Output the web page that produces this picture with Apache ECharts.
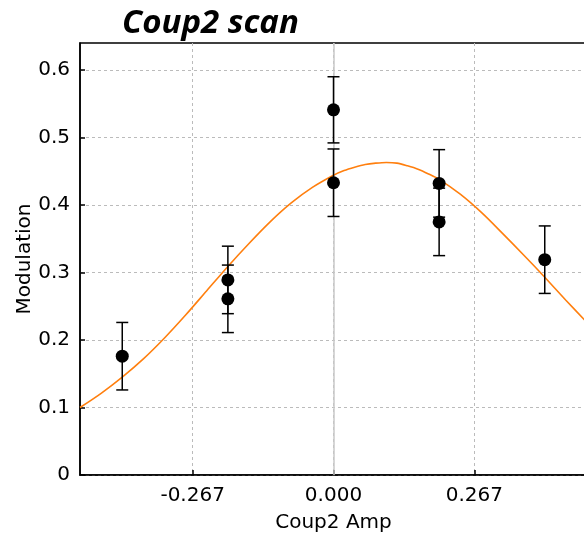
<!DOCTYPE html>
<html><head><meta charset="utf-8">
<script src="https://cdn.jsdelivr.net/npm/echarts@6/dist/echarts.min.js"></script>
<style>html,body{margin:0;padding:0;background:#fff}#c{width:584px;height:533px}</style>
</head><body><div id="c"></div>
<script>
// ---- data ----
const xTickValues = [-0.2667, 0, 0.2667];
const yTickValues = [0, 0.1, 0.2, 0.3, 0.4, 0.5, 0.6];
const pointX   = [-0.4, -0.2, -0.2, 0, 0, 0.2, 0.2, 0.4];
const pointY   = [0.176, 0.289, 0.261, 0.541, 0.433, 0.432, 0.375, 0.319];
const pointErr = [0.050, 0.050, 0.050, 0.049, 0.050, 0.050, 0.050, 0.050];
const fitX = [-0.48,-0.44,-0.40,-0.36,-0.32,-0.28,-0.24,-0.20,-0.16,-0.12,-0.08,-0.04,0,0.02,0.04,0.06,0.08,0.10,0.12,0.14,0.16,0.18,0.20,0.24,0.28,0.32,0.36,0.40,0.44,0.48];
const fitY = [0.100,0.121,0.145,0.172,0.203,0.237,0.273,0.309,0.343,0.375,0.403,0.426,0.444,0.451,0.456,0.460,0.462,0.463,0.462,0.458,0.453,0.446,0.438,0.416,0.389,0.358,0.326,0.293,0.259,0.226];

const FONT = 'DejaVu Sans';
const chart = echarts.init(document.getElementById('c'), null, {renderer: 'canvas'});
const scatterData = pointX.map((x, i) => [x, pointY[i]]);
const errData = pointX.map((x, i) => [x, pointY[i] - pointErr[i], pointY[i] + pointErr[i]]);
const fitData = fitX.map((x, i) => [x, fitY[i]]);

chart.setOption({
  animation: false,
  backgroundColor: '#fff',
  title: {
    text: 'Coup2 scan', left: 117, top: 2,
    textStyle: {fontFamily: 'Open Sans', fontWeight: 'bold', fontStyle: 'italic', fontSize: 33, color: '#000'}
  },
  grid: {left: 80, top: 43, right: -3, bottom: 58, outerBoundsMode: 'none', containLabel: false,
    show: true, borderColor: '#000', borderWidth: 1.5, backgroundColor: 'transparent'},
  xAxis: {
    type: 'value', min: -0.48, max: 0.48,
    name: 'Coup2 Amp', nameLocation: 'middle', nameGap: 38, nameMoveOverlap: false,
    nameTextStyle: {fontFamily: FONT, fontSize: 20, color: '#000'},
    axisLine: {show: true, onZero: false, lineStyle: {color: '#000', width: 1.5}},
    axisTick: {show: true, inside: true, length: 5, lineStyle: {color: '#000', width: 1.5}, customValues: xTickValues},
    axisLabel: {fontFamily: FONT, fontSize: 20, color: '#000', margin: 11, customValues: xTickValues,
      formatter: v => v.toFixed(3)},
    splitLine: {show: true, lineStyle: {color: '#bbb', type: [3, 3], width: 1}}
  },
  yAxis: {
    type: 'value', min: 0, max: 0.64, interval: 0.1,
    name: 'Modulation', nameLocation: 'middle', nameGap: 45, nameMoveOverlap: false,
    nameTextStyle: {fontFamily: FONT, fontSize: 20, color: '#000'},
    axisLine: {show: true, onZero: false, lineStyle: {color: '#000', width: 1.5}},
    axisTick: {show: true, inside: true, length: 5, lineStyle: {color: '#000', width: 1.5}, customValues: yTickValues},
    axisLabel: {fontFamily: FONT, fontSize: 20, color: '#000', margin: 10, customValues: yTickValues,
      formatter: v => (v === 0 ? '0' : v.toFixed(1))},
    splitLine: {show: true, lineStyle: {color: '#bbb', type: [3, 3], width: 1}}
  },
  series: [
    {
      type: 'line', data: fitData, smooth: 0.3, symbol: 'none', clip: true, z: 3,
      lineStyle: {color: '#ff7f0e', width: 1.6},
      markLine: {silent: true, symbol: 'none', label: {show: false}, z: 1,
        lineStyle: {color: '#c8c8c8', type: 'solid', width: 1.5},
        data: [{xAxis: 0}]}
    },
    {
      type: 'custom', z: 4, data: errData,
      renderItem: (params, api) => {
        const x = api.value(0);
        const lo = api.coord([x, api.value(1)]);
        const hi = api.coord([x, api.value(2)]);
        const w = 6;
        const style = {stroke: '#000', lineWidth: 1.5};
        return {type: 'group', children: [
          {type: 'line', shape: {x1: lo[0], y1: lo[1], x2: hi[0], y2: hi[1]}, style},
          {type: 'line', shape: {x1: lo[0]-w, y1: lo[1], x2: lo[0]+w, y2: lo[1]}, style},
          {type: 'line', shape: {x1: hi[0]-w, y1: hi[1], x2: hi[0]+w, y2: hi[1]}, style}
        ]};
      }
    },
    {
      type: 'scatter', data: scatterData, symbol: 'circle', symbolSize: 13, z: 5,
      itemStyle: {color: '#000', opacity: 1}
    }
  ]
});
</script></body></html>
